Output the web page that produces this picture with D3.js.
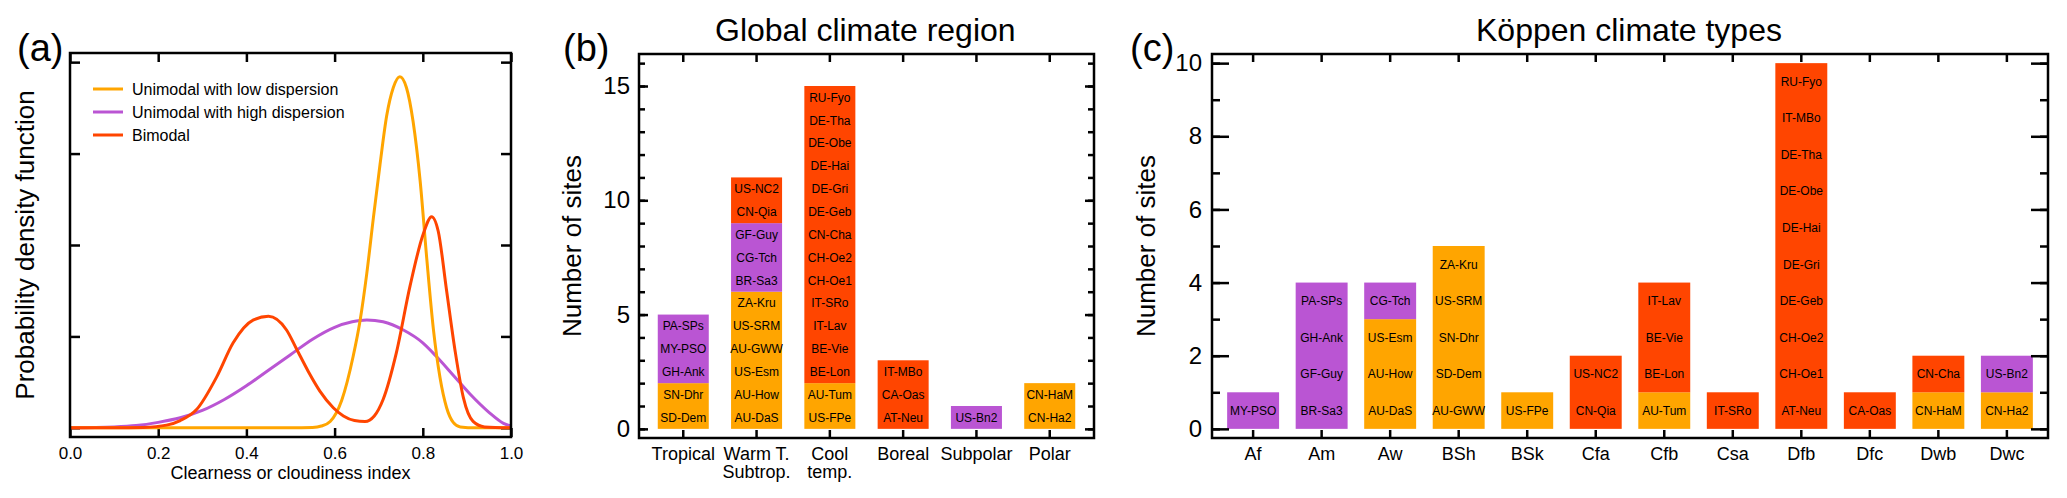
<!DOCTYPE html>
<html><head><meta charset="utf-8">
<script src="https://cdn.jsdelivr.net/npm/d3@7"></script>
<style>
body{margin:0;background:#fff}
svg text{font-family:"Liberation Sans",Arial,Helvetica,sans-serif;fill:#000}
</style></head><body>
<svg id="chart" width="2067" height="498"></svg>
<script>
// ---------------- DATA ----------------
// Panel (a): probability density curves (x = clearness index, y = density)
const seriesNames = ["Unimodal with low dispersion", "Unimodal with high dispersion", "Bimodal"];

const lowDispX = [0, 0.1, 0.2, 0.3, 0.4, 0.5, 0.55, 0.57, 0.59, 0.616, 0.642, 0.658, 0.673, 0.688, 0.703, 0.718, 0.733, 0.748, 0.763, 0.778, 0.794, 0.809, 0.824, 0.839, 0.854, 0.869, 0.885, 0.92, 1.0];
const lowDispY = [0, 0, 0, 0, 0, 0, 0.005, 0.02, 0.07, 0.3, 0.78, 1.18, 1.69, 2.3, 2.88, 3.41, 3.72, 3.84, 3.72, 3.35, 2.7, 1.85, 1.08, 0.55, 0.22, 0.06, 0.01, 0, 0];

const highDispX = [0, 0.1, 0.15, 0.2, 0.25, 0.3, 0.35, 0.4, 0.45, 0.5, 0.55, 0.6, 0.64, 0.673, 0.71, 0.756, 0.8, 0.831, 0.87, 0.907, 0.95, 0.983, 1.0];
const highDispY = [0, 0.01, 0.025, 0.06, 0.11, 0.19, 0.31, 0.46, 0.63, 0.8, 0.97, 1.1, 1.16, 1.18, 1.16, 1.07, 0.93, 0.78, 0.57, 0.37, 0.17, 0.05, 0.02];

const bimodalX = [0, 0.1, 0.166, 0.219, 0.25, 0.287, 0.333, 0.37, 0.416, 0.45, 0.491, 0.514, 0.54, 0.567, 0.597, 0.62, 0.645, 0.669, 0.69, 0.71, 0.74, 0.771, 0.801, 0.82, 0.835, 0.854, 0.873, 0.892, 0.914, 0.94, 1.0];
const bimodalY = [0, 0, 0.005, 0.03, 0.08, 0.2, 0.56, 0.93, 1.18, 1.22, 1.07, 0.86, 0.62, 0.4, 0.22, 0.13, 0.08, 0.07, 0.13, 0.31, 0.82, 1.55, 2.12, 2.31, 2.15, 1.5, 0.85, 0.33, 0.07, 0.01, 0];

const pdfXTicks = [0, 0.2, 0.4, 0.6, 0.8, 1.0];
const pdfYTicks = [0, 1, 2, 3, 4];

// Panel (b): global climate region
const regionCats = ["Tropical", "Warm T.\nSubtrop.", "Cool\ntemp.", "Boreal", "Subpolar", "Polar"];
const regionLow  = [2, 6, 2, 0, 0, 2];
const regionHigh = [3, 3, 0, 0, 1, 0];
const regionBi   = [0, 2, 13, 3, 0, 0];
const regionSites = [
  ["SD-Dem", "SN-Dhr", "GH-Ank", "MY-PSO", "PA-SPs"],
  ["AU-DaS", "AU-How", "US-Esm", "AU-GWW", "US-SRM", "ZA-Kru", "BR-Sa3", "CG-Tch", "GF-Guy", "CN-Qia", "US-NC2"],
  ["US-FPe", "AU-Tum", "BE-Lon", "BE-Vie", "IT-Lav", "IT-SRo", "CH-Oe1", "CH-Oe2", "CN-Cha", "DE-Geb", "DE-Gri", "DE-Hai", "DE-Obe", "DE-Tha", "RU-Fyo"],
  ["AT-Neu", "CA-Oas", "IT-MBo"],
  ["US-Bn2"],
  ["CN-Ha2", "CN-HaM"]
];
const regionMajorTicks = [0, 5, 10, 15];
const regionMinorTicks = d3.range(0, 17);

// Panel (c): Köppen climate types
const koppenCats = ["Af", "Am", "Aw", "BSh", "BSk", "Cfa", "Cfb", "Csa", "Dfb", "Dfc", "Dwb", "Dwc"];
const koppenLow  = [0, 0, 3, 5, 1, 0, 1, 0, 0, 0, 1, 1];
const koppenHigh = [1, 4, 1, 0, 0, 0, 0, 0, 0, 0, 0, 1];
const koppenBi   = [0, 0, 0, 0, 0, 2, 3, 1, 10, 1, 1, 0];
const koppenSites = [
  ["MY-PSO"],
  ["BR-Sa3", "GF-Guy", "GH-Ank", "PA-SPs"],
  ["AU-DaS", "AU-How", "US-Esm", "CG-Tch"],
  ["AU-GWW", "SD-Dem", "SN-Dhr", "US-SRM", "ZA-Kru"],
  ["US-FPe"],
  ["CN-Qia", "US-NC2"],
  ["AU-Tum", "BE-Lon", "BE-Vie", "IT-Lav"],
  ["IT-SRo"],
  ["AT-Neu", "CH-Oe1", "CH-Oe2", "DE-Geb", "DE-Gri", "DE-Hai", "DE-Obe", "DE-Tha", "IT-MBo", "RU-Fyo"],
  ["CA-Oas"],
  ["CN-HaM", "CN-Cha"],
  ["CN-Ha2", "US-Bn2"]
];
const koppenMajorTicks = [0, 2, 4, 6, 8, 10];
const koppenMinorTicks = d3.range(0, 11);

// ---------------- STYLE / LAYOUT ----------------
const colors = ["#FFA500", "#BA55D3", "#FF4500"];
const keys = ["low", "high", "bi"];
const FONT = '"Liberation Sans",Arial,Helvetica,sans-serif';
const LW = 2.5;

const svg = d3.select("#chart");

function frame(g, b) {
  g.append("rect").attr("x", b.left).attr("y", b.top)
    .attr("width", b.right - b.left).attr("height", b.bottom - b.top)
    .attr("fill", "none").attr("stroke", "#000").attr("stroke-width", LW);
}
function styleAxis(sel, fontSize) {
  sel.select(".domain").remove();
  sel.selectAll(".tick line").attr("stroke", "#000").attr("stroke-width", LW);
  sel.selectAll(".tick text").attr("font-size", fontSize).attr("font-family", FONT).attr("fill", "#000");
}

// ---------------- PANEL (a) ----------------
{
  const B = {left: 70, right: 511, top: 53, bottom: 437};
  const g = svg.append("g");
  const x = d3.scaleLinear().domain([0, 1]).range([B.left, B.right]);
  const y = d3.scaleLinear().domain([-0.1, 4.1]).range([B.bottom, B.top]);

  g.append("g").attr("transform", `translate(0,${B.bottom})`)
    .call(d3.axisBottom(x).tickValues(pdfXTicks).tickFormat(d3.format(".1f")).tickSize(-9).tickPadding(10))
    .call(s => styleAxis(s, 17));
  g.append("g").attr("transform", `translate(0,${B.top})`)
    .call(d3.axisTop(x).tickValues(pdfXTicks).tickFormat("").tickSize(-9))
    .call(s => styleAxis(s, 17));
  g.append("g").attr("transform", `translate(${B.left},0)`)
    .call(d3.axisLeft(y).tickValues(pdfYTicks).tickFormat("").tickSize(-10))
    .call(s => styleAxis(s, 17));
  g.append("g").attr("transform", `translate(${B.right},0)`)
    .call(d3.axisRight(y).tickValues(pdfYTicks).tickFormat("").tickSize(-10))
    .call(s => styleAxis(s, 17));

  const curves = [
    {xs: highDispX, ys: highDispY, c: colors[1]},
    {xs: lowDispX, ys: lowDispY, c: colors[0]},
    {xs: bimodalX, ys: bimodalY, c: colors[2]}
  ];
  const line = d3.line().x(d => x(d[0])).y(d => y(d[1])).curve(d3.curveMonotoneX);
  curves.forEach(cv => {
    g.append("path").datum(d3.zip(cv.xs, cv.ys))
      .attr("d", line).attr("fill", "none").attr("stroke", cv.c)
      .attr("stroke-width", 3).attr("stroke-linejoin", "round");
  });
  frame(g, B);

  // legend
  const lg = g.append("g").attr("transform", `translate(${B.left + 23},${B.top + 36})`);
  seriesNames.forEach((n, i) => {
    lg.append("line").attr("x1", 0).attr("x2", 30).attr("y1", i * 23).attr("y2", i * 23)
      .attr("stroke", colors[i]).attr("stroke-width", 3);
    lg.append("text").attr("x", 39).attr("y", i * 23 + 6).attr("font-size", 16).text(n);
  });

  g.append("text").attr("x", (B.left + B.right) / 2).attr("y", 479)
    .attr("text-anchor", "middle").attr("font-size", 18).text("Clearness or cloudiness index");
  g.append("text").attr("transform", `translate(34,${(B.top + B.bottom) / 2}) rotate(-90)`)
    .attr("text-anchor", "middle").attr("font-size", 26).text("Probability density function");
  g.append("text").attr("x", 17).attr("y", 61).attr("font-size", 38).text("(a)");
}

// ---------------- BAR PANELS ----------------
function barPanel(opt) {
  const B = opt.box;
  const g = svg.append("g");
  const x = d3.scaleBand().domain(opt.cats).range([B.left, B.right])
    .paddingInner(opt.padIn).paddingOuter(opt.padOut);
  const y = d3.scaleLinear().domain(opt.yDomain).range([B.bottom, B.top]);

  const rows = opt.cats.map((c, i) => ({cat: c, low: opt.low[i], high: opt.high[i], bi: opt.bi[i]}));
  const stacked = d3.stack().keys(keys)(rows);
  stacked.forEach((layer, k) => {
    g.append("g").selectAll("rect").data(layer.filter(d => d[1] > d[0])).join("rect")
      .attr("x", d => x(d.data.cat)).attr("width", x.bandwidth())
      .attr("y", d => y(d[1])).attr("height", d => y(d[0]) - y(d[1]))
      .attr("fill", colors[k]);
  });

  // site labels
  opt.sites.forEach((list, i) => {
    const cx = x(opt.cats[i]) + x.bandwidth() / 2;
    list.forEach((s, j) => {
      g.append("text").attr("x", cx).attr("y", y(j + 0.5)).attr("dy", "0.36em")
        .attr("text-anchor", "middle").attr("font-size", 12).text(s);
    });
  });

  // axes
  const bottom = g.append("g").attr("transform", `translate(0,${B.bottom})`)
    .call(d3.axisBottom(x).tickSize(-8).tickPadding(9))
    .call(s => styleAxis(s, 18));
  bottom.selectAll(".tick text").each(function(d) {
    const t = d3.select(this);
    const lines = d.split("\n");
    t.text(null).attr("dy", null);
    lines.forEach((l, i) => t.append("tspan").attr("x", 0).attr("dy", i === 0 ? "0.71em" : "1.0em").text(l));
  });
  g.append("g").attr("transform", `translate(0,${B.top})`)
    .call(d3.axisTop(x).tickSize(-8).tickFormat(""))
    .call(s => styleAxis(s, 18));
  g.append("g").attr("transform", `translate(${B.left},0)`)
    .call(d3.axisLeft(y).tickValues(opt.minor).tickFormat("").tickSize(-opt.minorLen))
    .call(s => styleAxis(s, 24));
  g.append("g").attr("transform", `translate(${B.left},0)`)
    .call(d3.axisLeft(y).tickValues(opt.major).tickFormat(d3.format("d")).tickSize(-opt.majorLen).tickPadding(opt.labPad))
    .call(s => styleAxis(s, 24));
  g.append("g").attr("transform", `translate(${B.right},0)`)
    .call(d3.axisRight(y).tickValues(opt.minor).tickFormat("").tickSize(-opt.minorLen))
    .call(s => styleAxis(s, 24));
  g.append("g").attr("transform", `translate(${B.right},0)`)
    .call(d3.axisRight(y).tickValues(opt.major).tickFormat("").tickSize(-opt.majorLen))
    .call(s => styleAxis(s, 24));
  frame(g, B);

  g.append("text").attr("transform", `translate(${opt.ylabX},${(B.top + B.bottom) / 2}) rotate(-90)`)
    .attr("text-anchor", "middle").attr("font-size", 26).text("Number of sites");
  g.append("text").attr("x", opt.titleX).attr("y", 41).attr("font-size", 32).text(opt.title);
  g.append("text").attr("x", opt.tagX).attr("y", 61).attr("font-size", 38).text(opt.tag);
}

barPanel({
  box: {left: 639, right: 1094, top: 54, bottom: 438},
  cats: regionCats, low: regionLow, high: regionHigh, bi: regionBi, sites: regionSites,
  padIn: 0.304, padOut: 0.256, yDomain: [-0.4, 16.4],
  major: regionMajorTicks, minor: regionMinorTicks, majorLen: 9, minorLen: 6, labPad: 9,
  ylabX: 581, title: "Global climate region", titleX: 715, tag: "(b)", tagX: 563
});

barPanel({
  box: {left: 1212, right: 2048, top: 54, bottom: 438},
  cats: koppenCats, low: koppenLow, high: koppenHigh, bi: koppenBi, sites: koppenSites,
  padIn: 0.242, padOut: 0.221, yDomain: [-0.25, 10.25],
  major: koppenMajorTicks, minor: koppenMinorTicks, majorLen: 17, minorLen: 8, labPad: 10,
  ylabX: 1155, title: "Köppen climate types", titleX: 1476, tag: "(c)", tagX: 1130
});
</script>
</body></html>
